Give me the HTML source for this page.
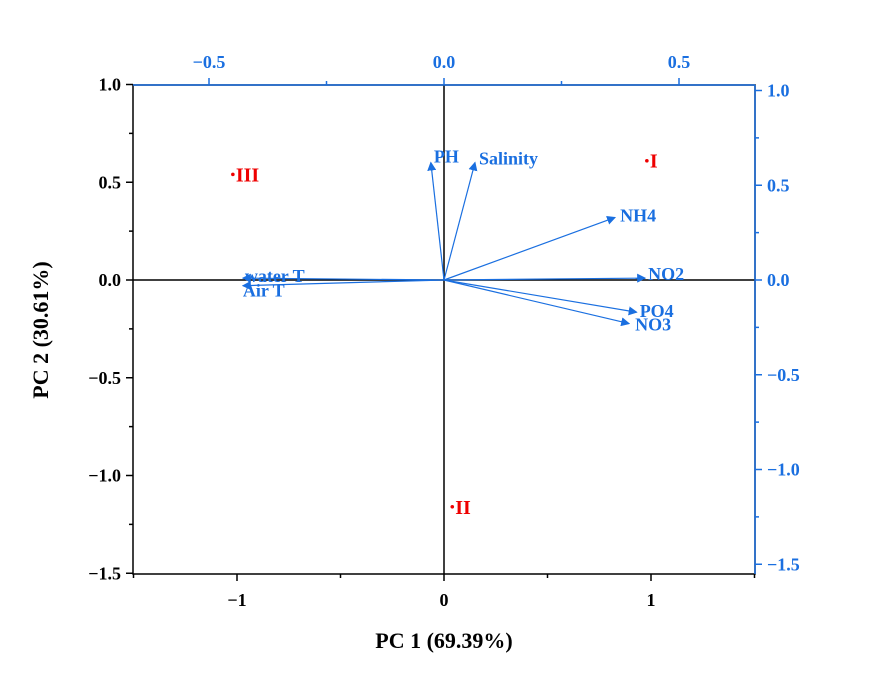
<!DOCTYPE html>
<html><head><meta charset="utf-8"><style>
body{margin:0;background:#fff;}
svg text{font-family:"Liberation Serif",serif;font-weight:bold;}
</style></head><body>
<svg id="c" width="872" height="673" xmlns="http://www.w3.org/2000/svg">
<defs><marker id="ah" markerWidth="9" markerHeight="9" refX="8" refY="4.5" orient="auto" markerUnits="userSpaceOnUse"><path d="M0,0 L9,4.5 L0,9 z" fill="#1a6fe0"/></marker></defs>
<g id="g"></g>
</svg>
<script>
const xTicks=[-1,0,1];
const yTicks=[1.0,0.5,0.0,-0.5,-1.0,-1.5];
const topTicks=[-0.5,0.0,0.5];
const rightTicks=[1.0,0.5,0.0,-0.5,-1.0,-1.5];
const loadNames=["PH","Salinity","NH4","NO2","PO4","NO3","water T","Air T"];
const loadX=[-0.028,0.066,0.364,0.428,0.41,0.394,-0.428,-0.428];
const loadY=[0.62,0.62,0.33,0.01,-0.17,-0.23,0.01,-0.03];
const siteNames=["I","II","III"];
const siteX=[0.98,0.04,-1.02];
const siteY=[0.61,-1.16,0.54];
const NS="http://www.w3.org/2000/svg";
const g=document.getElementById('g');
const L=133,R=755,T=85,B=574,OX=444,OY=280;
const sx=v=>OX+v*207, sy=v=>OY-v*195.5;
const tx=v=>OX+v*470, ty=v=>OY-v*189.5;
function el(t,a,txt){const e=document.createElementNS(NS,t);for(const k in a)e.setAttribute(k,a[k]);if(txt!==undefined)e.textContent=txt;g.appendChild(e);return e;}
const blue="#1a6fe0";
let e;
e=el('rect',{x:L,y:T,width:R-L,height:B-T,fill:'none',stroke:'#000','stroke-width':1.5});

e=el('line',{x1:L,x2:R,y1:OY,y2:OY,stroke:'#000','stroke-width':1.5});

e=el('line',{x1:OX,x2:OX,y1:T,y2:B,stroke:'#000','stroke-width':1.5});

e=el('line',{x1:L,x2:R,y1:T,y2:T,stroke:blue,'stroke-width':1.5});

e=el('line',{x1:R,x2:R,y1:T,y2:B,stroke:blue,'stroke-width':1.5});

for(let v=-1.5;v<=1.5001;v+=0.5){const major=Math.abs(v-Math.round(v))<1e-6;
e=el('line',{x1:sx(v),x2:sx(v),y1:B,y2:B+(major?7:4),stroke:'#000','stroke-width':1.5});
}
xTicks.forEach(v=>{e=el('text',{x:sx(v),y:B+32,'text-anchor':'middle','font-size':18},v===-1?'\u22121':String(v));
});
for(let v=-1.5;v<=1.0001;v+=0.25){const major=Math.abs(v*2-Math.round(v*2))<1e-6;
e=el('line',{x1:L,x2:L-(major?7:4),y1:sy(v),y2:sy(v),stroke:'#000','stroke-width':1.5});
}
yTicks.forEach(v=>{e=el('text',{x:L-12,y:sy(v)+6,'text-anchor':'end','font-size':18},(v<0?'\u2212':'')+Math.abs(v).toFixed(1));
});
[-0.5,-0.25,0,0.25,0.5].forEach(v=>{const major=Math.abs(v*2-Math.round(v*2))<1e-6;
e=el('line',{x1:tx(v),x2:tx(v),y1:T,y2:T-(major?7:4),stroke:blue,'stroke-width':1.5});
});
topTicks.forEach(v=>{e=el('text',{x:tx(v),y:T-17,'text-anchor':'middle','font-size':18,fill:blue},(v<0?'\u2212':'')+Math.abs(v).toFixed(1));
});
[1.0,0.75,0.5,0.25,0,-0.25,-0.5,-0.75,-1.0,-1.25,-1.5].forEach(v=>{const major=Math.abs(v*2-Math.round(v*2))<1e-6;
e=el('line',{x1:R,x2:R+(major?7:4),y1:ty(v),y2:ty(v),stroke:blue,'stroke-width':1.5});
});
rightTicks.forEach(v=>{e=el('text',{x:R+12,y:ty(v)+6,'text-anchor':'start','font-size':18,fill:blue},(v<0?'\u2212':'')+Math.abs(v).toFixed(1));
});
e=el('text',{x:444,y:648,'text-anchor':'middle','font-size':22},'PC 1 (69.39%)');

e=el('text',{x:0,y:0,'text-anchor':'middle','font-size':22,transform:'translate(48,330) rotate(-90)'},'PC 2 (30.61%)');

const lblOff={"PH":[3,0],"Salinity":[4,2],"NH4":[5,4],"NO2":[3,2],"PO4":[3,5],"NO3":[6,7],"water T":[2,4],"Air T":[0,11]};
loadNames.forEach((n,i)=>{const x=tx(loadX[i]),y=ty(loadY[i]);
e=el('line',{x1:OX,y1:OY,x2:x,y2:y,stroke:blue,'stroke-width':1.2,'marker-end':'url(#ah)'});

const o=lblOff[n];
e=el('text',{x:x+o[0],y:y+o[1],'font-size':18,fill:blue},n);
});
siteNames.forEach((n,i)=>{const x=sx(siteX[i]),y=sy(siteY[i]);
e=el('circle',{cx:x,cy:y,r:1.8,fill:'#e00'});

e=el('text',{x:x+3,y:y+7,'font-size':20,fill:'#e00'},n);
});
</script>
</body></html>
